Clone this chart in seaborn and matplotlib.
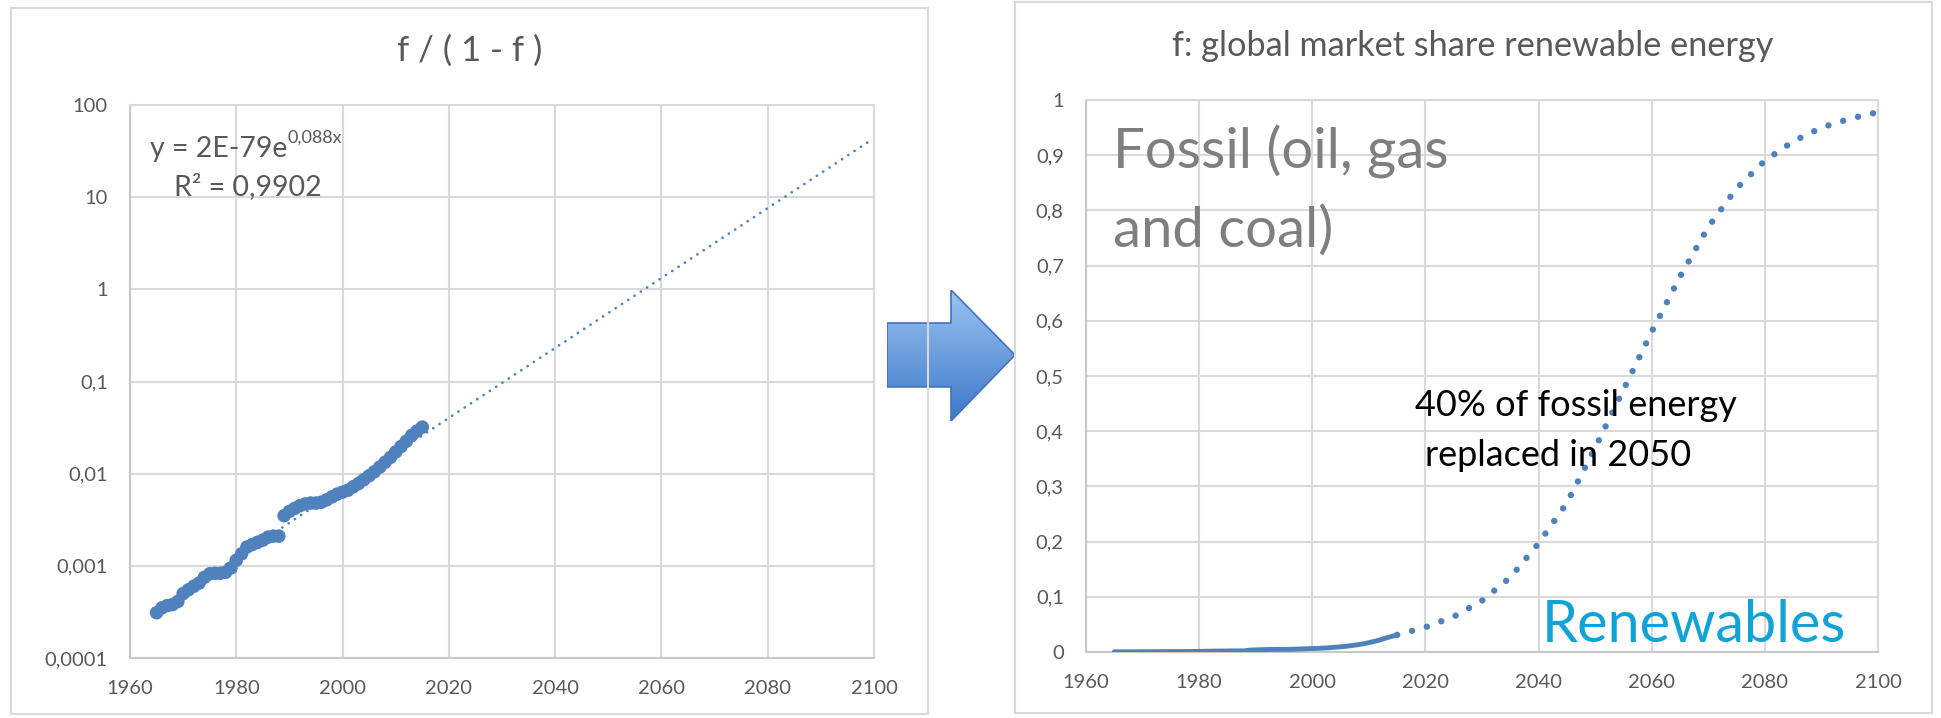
import numpy as np
import matplotlib
matplotlib.use("Agg")
import matplotlib.pyplot as plt
from matplotlib.patches import Polygon, Rectangle
import seaborn as sns

# f/(1-f) observed, 1965-2015
years = list(range(1965, 2016))
ratio = [3.1e-4, 3.5e-4, 3.7e-4, 3.8e-4, 4.1e-4, 5.0e-4, 5.5e-4, 6.0e-4, 6.5e-4, 7.5e-4,
         8.2e-4, 8.3e-4, 8.3e-4, 8.5e-4, 9.5e-4, 1.15e-3, 1.35e-3, 1.6e-3, 1.7e-3, 1.8e-3,
         1.9e-3, 2.05e-3, 2.1e-3, 2.1e-3, 3.5e-3, 3.9e-3, 4.2e-3, 4.5e-3, 4.7e-3, 4.8e-3,
         4.8e-3, 4.9e-3, 5.2e-3, 5.6e-3, 6.0e-3, 6.3e-3, 6.6e-3, 7.2e-3, 7.8e-3, 8.6e-3,
         9.5e-3, 0.0105, 0.0118, 0.0133, 0.0150, 0.0172, 0.0197, 0.0225, 0.026, 0.029, 0.032]

# exponential trendline (straight on log axis)
trend_years = [1965, 2099]
trend_vals = [3.3e-4, 40]

# projected market share
proj_years = [2015, 2020, 2025, 2030, 2035, 2040, 2045, 2050, 2055,
              2060, 2065, 2070, 2075, 2080, 2085, 2090, 2095, 2100]
proj_share = [0.031, 0.045, 0.064, 0.093, 0.135, 0.197, 0.27, 0.37, 0.475,
              0.58, 0.68, 0.77, 0.84, 0.89, 0.925, 0.95, 0.966, 0.978]

x_ticks = [1960, 1980, 2000, 2020, 2040, 2060, 2080, 2100]
log_ticks = [1e-4, 1e-3, 1e-2, 1e-1, 1, 10, 100]
log_labels = ["0,0001", "0,001", "0,01", "0,1", "1", "10", "100"]
share_ticks = [0, 0.1, 0.2, 0.3, 0.4, 0.5, 0.6, 0.7, 0.8, 0.9, 1]
share_labels = ["0", "0,1", "0,2", "0,3", "0,4", "0,5", "0,6", "0,7", "0,8", "0,9", "1"]

share = [r / (1 + r) for r in ratio]

sns.set_style("white")
plt.rcParams["font.family"] = ["Lato", "DejaVu Sans"]

blue = "#4f81bd"
grid = "#d9d9d9"
txt = "#595959"
W, H = 1941, 718

fig = plt.figure(figsize=(W / 100, H / 100), dpi=100)

# chart frames
for x0, y0, x1, y1 in [(11, 8, 928, 714), (1015, 2, 1932, 713)]:
    fig.add_artist(Rectangle((x0 / W, 1 - y1 / H), (x1 - x0) / W, (y1 - y0) / H,
                             transform=fig.transFigure, fill=False, ec=grid, lw=1.5))


def style_axes(ax):
    ax.grid(True, color=grid, lw=1.5)
    ax.set_axisbelow(True)
    for s in ax.spines.values():
        s.set_color(grid)
        s.set_linewidth(1.5)
    ax.spines["left"].set_color("#c8c8c8")
    ax.spines["bottom"].set_color("#c8c8c8")
    ax.tick_params(length=0, labelsize=14.5, labelcolor=txt, pad=16)
    ax.set_xlabel("")
    ax.set_ylabel("")


# left: f/(1-f) on log axis
ax1 = fig.add_axes([130 / W, 1 - 658 / H, 744 / W, 553 / H])
sns.lineplot(x=trend_years, y=trend_vals, ax=ax1, color=blue, lw=2.0,
             linestyle=(0, (0.01, 2.7)), dash_capstyle="round", zorder=2)
sns.scatterplot(x=years, y=ratio, ax=ax1, color=blue, s=95, edgecolor="none", zorder=3)
ax1.set_yscale("log")
ax1.set_ylim(1e-4, 100)
ax1.set_xlim(1960, 2100)
ax1.set_xticks(x_ticks)
ax1.set_yticks(log_ticks)
ax1.set_yticklabels(log_labels)
ax1.minorticks_off()
style_axes(ax1)

eq = ax1.text(0.027, 0.906, "y = 2E-79e", transform=ax1.transAxes, fontsize=20.5,
              color=txt, ha="left", va="baseline")
ax1.annotate("0,088x", xy=(1, 0.62), xycoords=eq, fontsize=13, color=txt,
             ha="left", va="bottom")
ax1.text(0.059, 0.837, "R² = 0,9902", transform=ax1.transAxes, fontsize=20.5,
         color=txt, ha="left", va="baseline")

# right: market share
ax2 = fig.add_axes([1086 / W, 1 - 652 / H, 792 / W, 552 / H])
sns.lineplot(x=years, y=share, ax=ax2, color=blue, lw=3.5, solid_capstyle="round", zorder=3)
sns.lineplot(x=proj_years, y=proj_share, ax=ax2, color=blue, lw=4.6,
             linestyle=(0, (0.01, 2.4)), dash_capstyle="round", zorder=3, clip_on=False)
ax2.set_ylim(0, 1)
ax2.set_xlim(1960, 2100)
ax2.set_xticks(x_ticks)
ax2.set_yticks(share_ticks)
ax2.set_yticklabels(share_labels)
style_axes(ax2)

ax2.text(0.034, 0.875, "Fossil (oil, gas", transform=ax2.transAxes, fontsize=40.5,
         color="#7f7f7f", va="baseline")
ax2.text(0.034, 0.734, "and coal)", transform=ax2.transAxes, fontsize=40.5,
         color="#7f7f7f", va="baseline")
ax2.text(0.415, 0.4275, "40% of fossil energy", transform=ax2.transAxes, fontsize=26,
         color="black", va="baseline", zorder=4)
ax2.text(0.428, 0.337, "replaced in 2050", transform=ax2.transAxes, fontsize=26,
         color="black", va="baseline", zorder=4)
ax2.text(0.576, 0.018, "Renewables", transform=ax2.transAxes, fontsize=41.5,
         color="#12a3d6", va="baseline", zorder=4)

# titles
fig.text(470 / W, 1 - 51 / H, "f / ( 1 - f )", fontsize=25, color=txt, ha="center", va="center")
fig.text(1473 / W, 1 - 46 / H, "f: global market share renewable energy", fontsize=24.7,
         color=txt, ha="center", va="center")

# block arrow between the charts
axa = fig.add_axes([887 / W, 1 - 421 / H, 128 / W, 131 / H])
axa.set_axis_off()
axa.set_xlim(0, 1)
axa.set_ylim(0, 1)
grad = np.linspace(0, 1, 256).reshape(-1, 1)
cmap = matplotlib.colors.LinearSegmentedColormap.from_list("arr", ["#3c78c8", "#9cc3f2"])
img = axa.imshow(grad, extent=(0, 1, 0, 1), origin="lower", cmap=cmap, aspect="auto")
shape = Polygon([(0, 0.26), (0.5, 0.26), (0.5, 0.0), (1, 0.504), (0.5, 1.0),
                 (0.5, 0.748), (0, 0.748)], closed=True, fc="none", ec="#4273b8", lw=1.2)
axa.add_patch(shape)
img.set_clip_path(shape)

fig.savefig("out.png", dpi=100)
